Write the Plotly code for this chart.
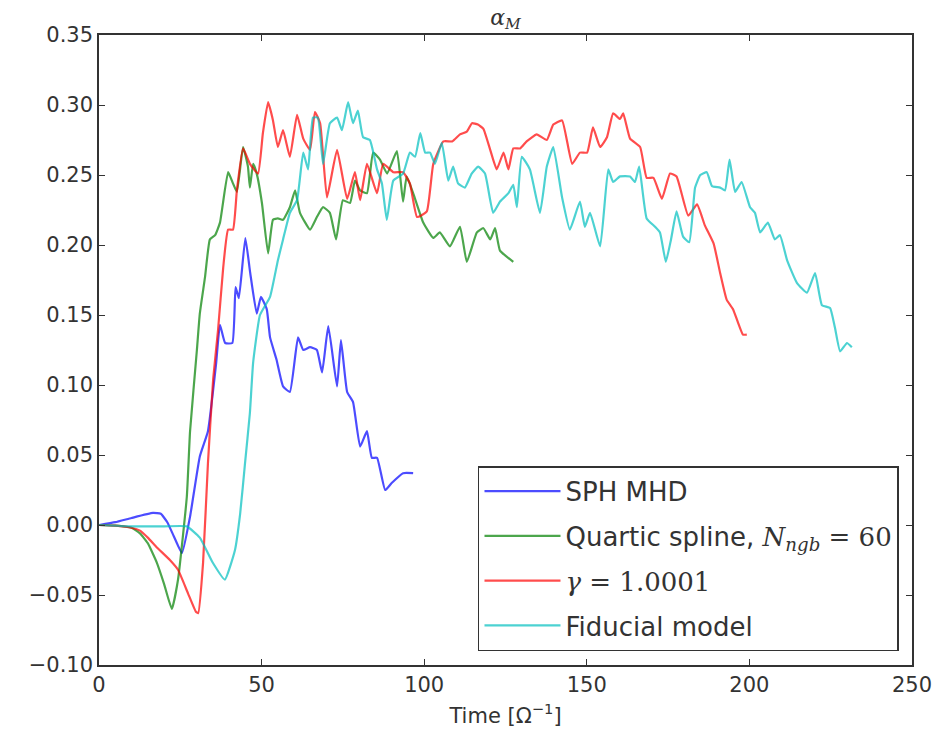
import plotly.graph_objects as go

# ---- data ----
blue_t = [0, 5, 10, 16.6, 19, 21, 23, 25.5, 28, 31, 33.5, 36, 37.2, 38.8, 41, 42, 43, 45, 46.5, 48.5, 49.8, 51.6,
          52.6, 54.6, 56.6, 58.7, 61.2, 62.8, 64.9, 67, 68.6, 70.5, 73.2, 74.4, 76.3, 78.1, 80.3, 82.4, 83.9, 85.5,
          88, 90, 93.5, 96.6]
blue_y = [0, 0.002, 0.005, 0.0086, 0.008, 0.002, -0.008, -0.02, 0.006, 0.049, 0.067, 0.115, 0.143, 0.13, 0.13, 0.17,
          0.162, 0.205, 0.18, 0.151, 0.163, 0.154, 0.134, 0.118, 0.099, 0.095, 0.134, 0.125, 0.127, 0.125, 0.109,
          0.142, 0.099, 0.132, 0.095, 0.088, 0.056, 0.067, 0.048, 0.048, 0.025, 0.03, 0.037, 0.037]

green_t = [0, 5, 10, 12.6, 15, 17.8, 20, 22.4, 24.3, 27, 28, 30.1, 31, 32.6, 34.1, 35.7, 37.2, 39.7, 41.2, 42.4, 44.3,
           45.8, 46.4, 47.4, 48.5, 50.1, 52, 53.5, 55, 56.6, 58.7, 60.3, 61.8, 64.9, 67, 68.9, 71, 72.9, 75, 77.2,
           78.7, 80.3, 82.4, 84.3, 86.4, 88.6, 91.6, 93.5, 94.6, 96.6, 99.7, 102.8, 104.8, 107.9, 111, 113.1, 116.2,
           118.2, 120.3, 121.8, 123.3, 127.4]
green_y = [0, -0.0005, -0.002, -0.006, -0.013, -0.027, -0.042, -0.06, -0.039, 0.02, 0.067, 0.125, 0.151, 0.177, 0.204,
           0.207, 0.216, 0.252, 0.244, 0.238, 0.27, 0.256, 0.241, 0.258, 0.251, 0.23, 0.194, 0.218, 0.219, 0.218,
           0.227, 0.239, 0.223, 0.211, 0.22, 0.227, 0.223, 0.204, 0.232, 0.23, 0.246, 0.239, 0.237, 0.266, 0.261,
           0.251, 0.267, 0.231, 0.249, 0.237, 0.216, 0.205, 0.209, 0.199, 0.213, 0.188, 0.209, 0.212, 0.204, 0.212,
           0.196, 0.188]

red_t = [0, 5, 10, 12.6, 15, 17.8, 21.8, 24.3, 27.4, 29.8, 30.5, 32, 33.5, 35.1, 36.6, 38.2, 39.7, 41.2, 42.4, 44.3,
         46.4, 48.9, 50.4, 52, 53.5, 55, 56.6, 58.7, 60.9, 62.8, 64.9, 66.4, 68, 70.1, 73.2, 76.3, 78.7, 80.3, 82.4,
         85.5, 87.4, 90.5, 93.5, 95.6, 97.8, 100.8, 102.8, 105.9, 108.6, 111, 113.1, 114.7, 116.5, 118.2, 120.3,
         122.3, 124.4, 125.9, 127.4, 129.5, 131.5, 134.6, 137.7, 139.7, 142.4, 145.5, 147.9, 150.1, 151.9, 154.1,
         156.2, 158.1, 160.2, 161.2, 163.3, 166.4, 168.4, 170.5, 173.1, 175.6, 177.6, 181.2, 183.9, 186.3, 189, 191,
         193, 195, 198, 199.2]
red_y = [0, -0.0005, -0.002, -0.004, -0.009, -0.016, -0.025, -0.032, -0.049, -0.062, -0.063, -0.027, 0.044, 0.104,
         0.139, 0.184, 0.211, 0.211, 0.239, 0.269, 0.258, 0.251, 0.28, 0.302, 0.289, 0.27, 0.282, 0.263, 0.293,
         0.276, 0.268, 0.295, 0.287, 0.234, 0.268, 0.233, 0.252, 0.232, 0.258, 0.237, 0.258, 0.252, 0.252, 0.244,
         0.22, 0.224, 0.258, 0.274, 0.274, 0.279, 0.281, 0.287, 0.286, 0.283, 0.268, 0.254, 0.266, 0.254, 0.269,
         0.269, 0.274, 0.279, 0.275, 0.286, 0.289, 0.258, 0.266, 0.266, 0.284, 0.27, 0.277, 0.294, 0.29, 0.294,
         0.276, 0.27, 0.248, 0.248, 0.233, 0.251, 0.249, 0.221, 0.229, 0.214, 0.201, 0.18, 0.161, 0.154, 0.136,
         0.136]

cyan_t = [0, 10, 20, 27, 31, 35, 38.7, 41.8, 43.4, 44.9, 46.4, 47.4, 49.5, 52.6, 55, 56.6, 58.7, 60.9, 62.8, 64.3,
          65.8, 67.3, 68.9, 71, 73.2, 74.7, 76.6, 78.1, 79.6, 81.2, 83.3, 85.5, 87, 88.5, 90.5, 93.5, 95.6, 97.2,
          98.8, 100.3, 101.8, 103.3, 105.4, 107.4, 108.9, 110.4, 112.5, 114.6, 116.6, 118.7, 121.2, 123.3, 125.9,
          127.4, 128.5, 130, 132.5, 135.6, 137.7, 139.7, 142.4, 144.8, 147.9, 149.4, 151, 154.1, 156.6, 158.1,
          160.2, 163.3, 164.8, 166.1, 168.4, 171, 172.5, 174.3, 175.9, 177.6, 179.6, 181.5, 183.3, 184.9, 186.9,
          188.5, 191, 192.5, 193.9, 195.6, 197.6, 200.2, 201.7, 203.3, 205.7, 207.8, 209.4, 211.6, 214.6, 217.7,
          220.2, 222.3, 224.8, 226.3, 227.9, 230, 231.5]
cyan_y = [0, -0.001, -0.001, -0.001, -0.009, -0.027, -0.039, -0.018, 0.008, 0.044, 0.08, 0.116, 0.15, 0.163, 0.189,
          0.204, 0.223, 0.232, 0.266, 0.254, 0.291, 0.291, 0.258, 0.287, 0.291, 0.282, 0.302, 0.287, 0.296, 0.277,
          0.275, 0.254, 0.244, 0.218, 0.246, 0.251, 0.266, 0.263, 0.28, 0.266, 0.266, 0.258, 0.273, 0.246, 0.256,
          0.244, 0.241, 0.251, 0.256, 0.251, 0.223, 0.231, 0.237, 0.243, 0.227, 0.263, 0.254, 0.223, 0.256, 0.27,
          0.234, 0.211, 0.231, 0.213, 0.223, 0.199, 0.254, 0.245, 0.249, 0.249, 0.245, 0.256, 0.219, 0.213, 0.209,
          0.188, 0.204, 0.224, 0.206, 0.202, 0.241, 0.25, 0.252, 0.242, 0.241, 0.239, 0.261, 0.238, 0.245, 0.227,
          0.223, 0.209, 0.216, 0.204, 0.207, 0.189, 0.173, 0.166, 0.18, 0.157, 0.155, 0.141, 0.124, 0.13, 0.127]

series_names = ["SPH MHD",
                "Quartic spline, <span style='font-family:DejaVu Serif'><i>N</i><sub><i>ngb</i></sub> = 60</span>",
                "<span style='font-family:DejaVu Serif'><i>γ</i> = 1.0001</span>",
                "Fiducial model"]
series_colors = ["rgba(0,0,255,0.7)", "rgba(0,128,0,0.7)", "rgba(255,0,0,0.7)", "rgba(0,191,191,0.7)"]
x_ticks = [0, 50, 100, 150, 200, 250]
y_ticks = [-0.10, -0.05, 0.00, 0.05, 0.10, 0.15, 0.20, 0.25, 0.30, 0.35]

fig = go.Figure()
for i, (t, y) in enumerate([(blue_t, blue_y), (green_t, green_y), (red_t, red_y), (cyan_t, cyan_y)]):
    fig.add_trace(go.Scatter(x=t, y=y, mode="lines", name=series_names[i], legendgroup=f"g{i}",
                             line=dict(color=series_colors[i], width=2.2, shape="spline", smoothing=0.4)))

axis_common = dict(showgrid=False, zeroline=False, showline=True, linecolor="#333", linewidth=1.5,
                   mirror="allticks", ticks="inside", ticklen=6, tickwidth=1, tickcolor="#333",
                   automargin=False,
                   tickfont=dict(family="DejaVu Sans", size=21, color="#333"))

fig.update_layout(
    width=936, height=733,
    margin=dict(l=99, r=24, t=35, b=68),
    paper_bgcolor="white", plot_bgcolor="white",
    title=dict(text="<i>α</i><sub><i>M</i></sub>", x=(99 + 912) / 2 / 936, xanchor="center",
               y=1 - 17 / 733, yanchor="middle", font=dict(family="DejaVu Serif", size=22, color="#333")),
    xaxis=dict(range=[0, 250], tickvals=x_ticks, ticktext=[str(v) for v in x_ticks],
               title=dict(text="Time [Ω<sup>−1</sup>]", font=dict(family="DejaVu Sans", size=21, color="#333"),
                          standoff=12),
               **axis_common),
    yaxis=dict(range=[-0.10, 0.35], tickvals=y_ticks, tickformat=".2f", **axis_common),
    legend=dict(x=0.984, xanchor="right", y=0.022, yanchor="bottom", bgcolor="white",
                bordercolor="#333", borderwidth=1.5, traceorder="grouped", tracegroupgap=8,
                font=dict(family="DejaVu Sans", size=26, color="#333"),
                itemwidth=76),
    showlegend=True,
)

fig.write_html("out.html")
